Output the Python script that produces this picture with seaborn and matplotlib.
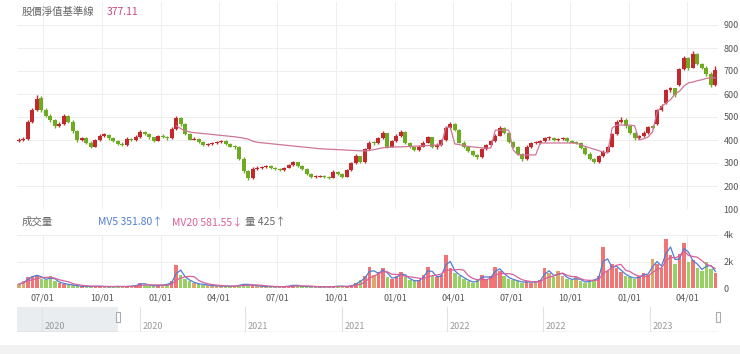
import numpy as np
import pandas as pd
import matplotlib
matplotlib.use("Agg")
import matplotlib.pyplot as plt
from matplotlib.patches import Rectangle
import seaborn as sns

# weekly candles (first week starts 2020-05-25)
start_date = "2020-05-25"

opens = [
    398, 400, 405, 480, 530, 585, 530, 505, 487, 460,
    470, 505, 480, 440, 400, 408, 390, 372, 400, 420,
    422, 410, 395, 385, 378, 405, 400, 415, 435, 428,
    412, 398, 418, 415, 408, 450, 495, 470, 425, 402,
    405, 392, 378, 382, 387, 392, 396, 382, 372, 370,
    320, 265, 235, 275, 280, 282, 287, 280, 275, 270,
    280, 292, 304, 288, 275, 255, 240, 241, 243, 238,
    236, 262, 255, 241, 270, 300, 330, 305, 360, 390,
    387, 410, 430, 372, 395, 420, 435, 388, 372, 358,
    372, 390, 412, 370, 380, 400, 455, 470, 445, 390,
    372, 352, 335, 326, 360, 378, 395, 420, 455, 430,
    392, 372, 340, 318, 372, 387, 388, 395, 408, 410,
    400, 404, 408, 398, 390, 388, 368, 342, 318, 305,
    330, 350, 372, 425, 480, 490, 460, 430, 408, 418,
    432, 457, 470, 530, 560, 617, 625, 640, 710, 758,
    715, 775, 730, 715, 690, 640]

closes = [
    400, 405, 480, 530, 580, 530, 505, 487, 460, 470,
    505, 480, 440, 400, 408, 390, 372, 400, 420, 422,
    410, 395, 385, 378, 405, 400, 415, 435, 428, 412,
    398, 418, 415, 408, 450, 495, 470, 425, 402, 405,
    392, 378, 382, 387, 392, 396, 382, 372, 370, 320,
    265, 235, 275, 280, 282, 287, 280, 275, 270, 280,
    292, 304, 288, 275, 255, 240, 241, 243, 238, 236,
    262, 255, 241, 270, 300, 330, 305, 360, 390, 387,
    410, 430, 372, 395, 420, 435, 388, 372, 358, 372,
    390, 412, 370, 380, 400, 455, 470, 445, 390, 372,
    352, 335, 326, 360, 378, 395, 420, 455, 430, 392,
    372, 340, 318, 372, 387, 388, 395, 408, 410, 400,
    404, 408, 398, 390, 388, 368, 342, 318, 305, 330,
    350, 372, 425, 480, 490, 460, 430, 408, 418, 432,
    457, 455, 530, 550, 617, 625, 595, 710, 758, 715,
    775, 730, 715, 690, 640, 705]

highs = [
    410, 412, 485, 540, 595, 592, 540, 512, 492, 478,
    515, 510, 485, 445, 415, 412, 395, 405, 428, 430,
    425, 415, 398, 390, 412, 410, 420, 442, 440, 432,
    415, 422, 425, 418, 455, 505, 498, 475, 430, 412,
    410, 395, 388, 392, 396, 402, 398, 386, 378, 372,
    325, 268, 282, 285, 288, 292, 290, 284, 278, 284,
    296, 310, 306, 292, 278, 258, 246, 248, 246, 242,
    270, 266, 258, 275, 305, 338, 332, 365, 395, 396,
    415, 438, 432, 400, 425, 442, 438, 392, 376, 378,
    395, 418, 415, 386, 405, 462, 478, 474, 448, 394,
    376, 357, 338, 364, 383, 400, 426, 462, 458, 434,
    396, 376, 344, 378, 392, 394, 400, 414, 416, 414,
    410, 414, 412, 400, 394, 392, 372, 346, 322, 334,
    355, 377, 430, 486, 500, 494, 464, 434, 422, 437,
    462, 465, 535, 556, 622, 632, 628, 715, 765, 760,
    785, 778, 735, 720, 695, 720]

lows = [
    392, 395, 400, 475, 525, 522, 498, 480, 452, 455,
    465, 472, 432, 392, 395, 382, 365, 368, 395, 412,
    402, 390, 378, 372, 375, 395, 395, 410, 420, 405,
    392, 395, 410, 402, 405, 445, 462, 420, 398, 398,
    388, 372, 374, 378, 383, 388, 378, 368, 362, 315,
    255, 225, 232, 270, 275, 280, 276, 270, 265, 266,
    278, 288, 282, 270, 250, 236, 236, 238, 234, 231,
    233, 250, 236, 238, 266, 296, 300, 300, 355, 380,
    383, 405, 365, 368, 390, 415, 382, 366, 352, 352,
    368, 386, 364, 362, 375, 396, 448, 440, 385, 366,
    346, 330, 318, 322, 355, 372, 390, 416, 425, 386,
    366, 335, 310, 314, 367, 382, 384, 390, 402, 396,
    396, 400, 393, 385, 382, 362, 336, 312, 300, 302,
    326, 346, 368, 420, 475, 452, 425, 402, 404, 414,
    428, 450, 465, 525, 555, 610, 585, 635, 705, 705,
    712, 725, 710, 680, 630, 635]

# pink baseline (starts Jan 2021)
baseline = [np.nan] * 35 + [
    462, 450, 440, 435, 432, 430, 428, 426, 424, 422,
    420, 418, 416, 414, 411, 408, 404, 395, 390, 388,
    386, 384, 382, 380, 378, 376, 374, 372, 370, 368,
    366, 364, 362, 361, 360, 359, 358, 357, 356, 355,
    354, 353, 353, 354, 358, 362, 366, 368, 369, 370,
    370, 371, 372, 373, 374, 375, 376, 377, 378, 378,
    455, 455, 383, 380, 376, 372, 370, 368, 366, 365,
    365, 443, 443, 443, 443, 357, 336, 335, 335, 335,
    335, 387, 387, 387, 387, 387, 387, 387, 387, 386,
    380, 372, 366, 360, 354, 348, 343, 452, 465, 465,
    465, 465, 462, 400, 405, 413, 435, 522, 545, 561,
    575, 600, 612, 635, 648, 652, 658, 662, 668, 670,
    670]

volume = [
    300, 500, 800, 900, 1000, 700, 600, 900, 500, 400, 300, 250, 200,
    150, 120, 130, 100, 150, 120, 100, 90, 110, 130,
    100, 120, 150, 200, 400, 250, 180, 150, 200, 250, 300,
    500, 1700, 1000, 700, 500, 350, 300, 250, 200, 180, 150, 150,
    130, 120, 150, 250, 300, 250, 200, 150, 120, 100,
    110, 100, 90, 120, 150, 250, 150, 120, 100, 110,
    90, 80, 100, 90, 120, 150, 130, 100, 200,
    400, 600, 900, 1600, 1000, 1200, 1500, 800, 700, 900,
    1200, 800, 600, 500, 600, 1000, 1600, 900, 800, 1000,
    2500, 1500, 1100, 900, 700, 500, 400, 600, 1000, 700,
    900, 1600, 1300, 900, 700, 600, 500, 400, 500, 400,
    500, 600, 1500, 1100, 800, 1300, 900, 700, 600, 800,
    500, 400, 600, 600, 900, 3100, 1300, 1800, 1500, 1200,
    900, 800, 700, 900, 1100, 1000, 2200, 1800, 1500, 3700,
    2500, 1800, 2600, 3400, 2000, 2100, 1500, 1300, 2000, 1400,
    1100]

tick_dates = ["2020-07-01", "2020-10-01", "2021-01-01", "2021-04-01",
              "2021-07-01", "2021-10-01", "2022-01-01", "2022-04-01",
              "2022-07-01", "2022-10-01", "2023-01-01", "2023-04-01"]
nav_years = ["2020", "2020", "2021", "2021", "2022", "2022", "2023"]

df = pd.DataFrame({"open": opens, "close": closes, "high": highs, "low": lows,
                   "baseline": baseline, "volume": volume})
df["date"] = pd.date_range(start_date, periods=len(df), freq="7D")
df["mv5"] = df["volume"].rolling(2, min_periods=1).mean()
df["mv20"] = df["volume"].rolling(5, min_periods=1).mean()

sns.set_theme(style="white")
plt.rcParams["font.family"] = ["Noto Sans CJK TC", "DejaVu Sans"]

W, H = 740, 354
fig = plt.figure(figsize=(7.4, 3.54), dpi=100)


def box(x0, y0, x1, y1):
    return [x0 / W, 1 - y1 / H, (x1 - x0) / W, (y1 - y0) / H]


ax = fig.add_axes(box(17, 2, 718, 209))
axv = fig.add_axes(box(17, 235, 718, 288), sharex=ax)
axn = fig.add_axes(box(17, 307, 718, 332))

red, green, tan = "#c2282c", "#6eab22", "#dca66c"
up = df["close"] >= df["open"]
cols = np.where(up, red, green)

# candles
ax.vlines(df["date"], df["low"], df["high"], colors=cols, lw=1.0)
body = (df["close"] - df["open"]).abs().clip(lower=5)
ax.bar(df["date"], body, bottom=df[["open", "close"]].min(axis=1) - 1,
       width=6.2, color=cols, linewidth=0)
sns.lineplot(data=df, x="date", y="baseline", ax=ax, color="#cf7596", lw=0.9)

ax.set_ylim(100, 1000)
ax.set_yticks(range(100, 1000, 100))
ax.set_xlim(pd.Timestamp("2020-05-22"), pd.Timestamp("2023-05-19"))
ax.yaxis.tick_right()
ax.grid(True, color="#eeeeee", lw=0.7)
ax.tick_params(axis="y", length=0, labelsize=6.5, labelcolor="#555555", pad=4)
ax.tick_params(axis="x", length=0, labelbottom=False)
ax.set_xlabel("")
ax.set_ylabel("")
for s in ax.spines.values():
    s.set_visible(False)

# volume
vcols = np.where((df["close"] - df["open"]).abs() < 6, tan,
                 np.where(up, "#f07575", "#98d063"))
axv.bar(df["date"], df["volume"], width=5.5, color=vcols, linewidth=0)
sns.lineplot(data=df, x="date", y="mv5", ax=axv, color="#4f7ed6", lw=0.9)
sns.lineplot(data=df, x="date", y="mv20", ax=axv, color="#d8609a", lw=0.9)
axv.set_ylim(0, 4000)
axv.set_yticks([0, 2000, 4000])
axv.set_yticklabels(["0", "2k", "4k"])
axv.yaxis.tick_right()
axv.set_xticks(pd.to_datetime(tick_dates))
axv.set_xticklabels(pd.to_datetime(tick_dates).strftime("%m/%d"))
axv.grid(True, color="#eeeeee", lw=0.7)
axv.tick_params(axis="y", length=0, labelsize=6.5, labelcolor="#555555", pad=4)
axv.tick_params(axis="x", length=0, labelsize=6.5, labelcolor="#555555", pad=4)
axv.set_xlabel("")
axv.set_ylabel("")
for s in axv.spines.values():
    s.set_visible(False)

# navigator strip
axn.set_xlim(0, 1)
axn.set_ylim(0, 1)
axn.axis("off")
nav_px = [42, 140, 245, 342, 447, 543, 650]
axn.add_patch(Rectangle((0, 0), (118 - 17) / 701, 1, color="#e9edf0", lw=0))
axn.plot([0, 1], [0, 0], color="#cccccc", lw=1)
for px, yr in zip(nav_px, nav_years):
    fx = (px - 17) / 701
    axn.plot([fx, fx], [0, 1], color="#e2e2e2", lw=0.8)
    axn.text(fx + 0.004, 0.22, yr, fontsize=6.5, color="#999999", va="center")
for px in (118, 718):
    fx = (px - 17) / 701
    axn.add_patch(Rectangle((fx - 0.0035, 0.4), 0.007, 0.42, facecolor="white",
                            edgecolor="#aaaaaa", lw=0.8, clip_on=False))

# bottom band
fig.patches.append(Rectangle((0, 0), 1, 9 / H, transform=fig.transFigure,
                             color="#f2f2f2", lw=0))

# header texts
fig.text(22 / W, 1 - 12 / H, "股價淨值基準線", fontsize=7.5, color="#666666", va="center")
fig.text(107 / W, 1 - 12 / H, "377.11", fontsize=7.5, color="#c2487c", va="center")
fig.text(22 / W, 1 - 222 / H, "成交量", fontsize=7.5, color="#666666", va="center")
fig.text(98 / W, 1 - 222 / H, "MV5 351.80↑", fontsize=7.5, color="#4f7ed6", va="center")
fig.text(172 / W, 1 - 222 / H, "MV20 581.55↓", fontsize=7.5, color="#d8609a", va="center")
fig.text(245 / W, 1 - 222 / H, "量 425↑", fontsize=7.5, color="#666666", va="center")

fig.savefig("out.png", dpi=100)
